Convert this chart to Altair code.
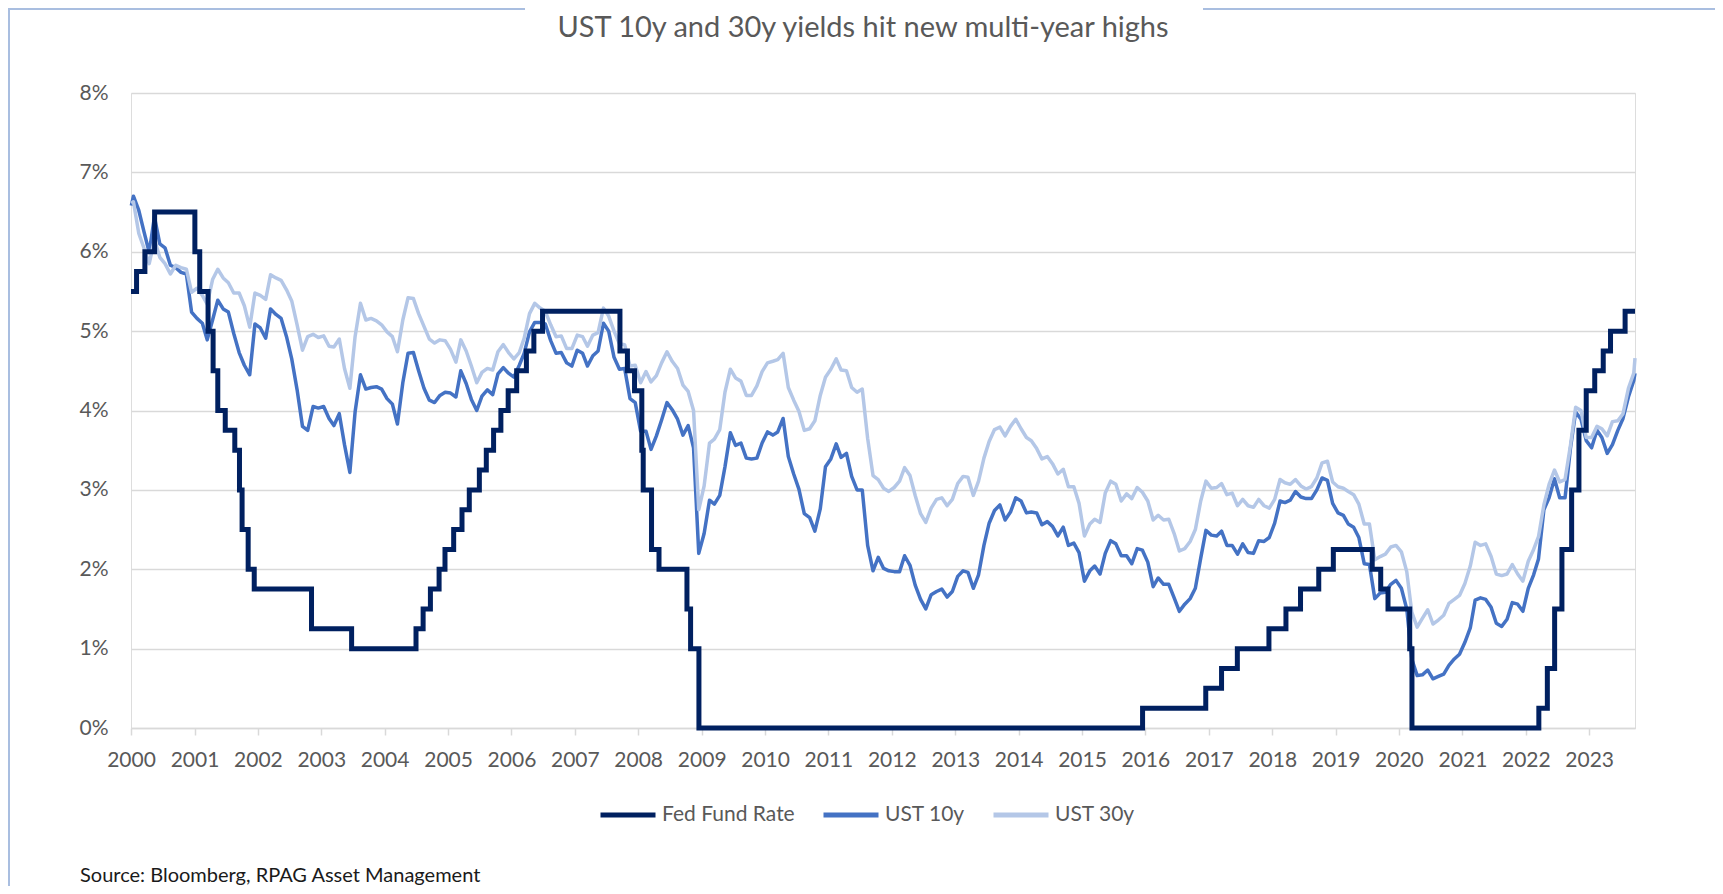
import altair as alt
import pandas as pd

TITLE = "UST 10y and 30y yields hit new multi-year highs"
SOURCE = "Source: Bloomberg, RPAG Asset Management"
SERIES = ["Fed Fund Rate", "UST 10y", "UST 30y"]
COLORS = ["#002060", "#4472C4", "#B4C7E7"]
YEARS = list(range(2000, 2024))
Y_TICKS = [0, 1, 2, 3, 4, 5, 6, 7, 8]

# Fed funds target (lower bound), change dates and levels (%)
fed_dates = [
    "2000-01-01", "2000-02-02", "2000-03-21", "2000-05-16", "2001-01-03", "2001-01-31",
    "2001-03-20", "2001-04-18", "2001-05-15", "2001-06-27", "2001-08-21", "2001-09-17",
    "2001-10-02", "2001-11-06", "2001-12-11", "2002-11-06", "2003-06-25", "2004-06-30",
    "2004-08-10", "2004-09-21", "2004-11-10", "2004-12-14", "2005-02-02", "2005-03-22",
    "2005-05-03", "2005-06-30", "2005-08-09", "2005-09-20", "2005-11-01", "2005-12-13",
    "2006-01-31", "2006-03-28", "2006-05-10", "2006-06-29", "2007-09-18", "2007-10-31",
    "2007-12-11", "2008-01-22", "2008-01-30", "2008-03-18", "2008-04-30", "2008-10-08",
    "2008-10-29", "2008-12-16", "2015-12-16", "2016-12-14", "2017-03-15", "2017-06-14",
    "2017-12-13", "2018-03-21", "2018-06-13", "2018-09-26", "2018-12-19", "2019-07-31",
    "2019-09-18", "2019-10-30", "2020-03-03", "2020-03-16", "2022-03-17", "2022-05-05",
    "2022-06-16", "2022-07-28", "2022-09-22", "2022-11-03", "2022-12-15", "2023-02-02",
    "2023-03-23", "2023-05-04", "2023-07-27", "2023-09-22",
]
fed_values = [
    5.50, 5.75, 6.00, 6.50, 6.00, 5.50,
    5.00, 4.50, 4.00, 3.75, 3.50, 3.00,
    2.50, 2.00, 1.75, 1.25, 1.00, 1.25,
    1.50, 1.75, 2.00, 2.25, 2.50, 2.75,
    3.00, 3.25, 3.50, 3.75, 4.00, 4.25,
    4.50, 4.75, 5.00, 5.25, 4.75, 4.50,
    4.25, 3.50, 3.00, 2.25, 2.00, 1.50,
    1.00, 0.00, 0.25, 0.50, 0.75, 1.00,
    1.25, 1.50, 1.75, 2.00, 2.25, 2.00,
    1.75, 1.50, 1.00, 0.00, 0.25, 0.75,
    1.50, 2.25, 3.00, 3.75, 4.25, 4.50,
    4.75, 5.00, 5.25, 5.25,
]

# UST yields (%), one value per month Jan 2000 .. Sep 2023
ust10 = [
    6.70, 6.52, 6.26, 5.99, 6.44, 6.10, 6.05, 5.83, 5.80, 5.74, 5.72, 5.24,  # 2000
    5.16, 5.10, 4.89, 5.14, 5.39, 5.28, 5.24, 4.97, 4.73, 4.57, 4.45, 5.09,  # 2001
    5.04, 4.91, 5.28, 5.21, 5.16, 4.93, 4.65, 4.26, 3.80, 3.75, 4.05, 4.03,  # 2002
    4.05, 3.90, 3.81, 3.96, 3.57, 3.22, 3.98, 4.45, 4.27, 4.29, 4.30, 4.27,  # 2003
    4.15, 4.08, 3.83, 4.35, 4.72, 4.73, 4.50, 4.28, 4.13, 4.10, 4.19, 4.23,  # 2004
    4.22, 4.17, 4.50, 4.34, 4.14, 4.00, 4.18, 4.26, 4.20, 4.46, 4.54, 4.47,  # 2005
    4.42, 4.57, 4.72, 4.99, 5.11, 5.11, 5.09, 4.88, 4.72, 4.73, 4.60, 4.56,  # 2006
    4.76, 4.72, 4.56, 4.69, 4.75, 5.10, 5.00, 4.67, 4.52, 4.53, 4.15, 4.10,  # 2007
    3.74, 3.74, 3.51, 3.68, 3.88, 4.10, 4.01, 3.89, 3.69, 3.81, 3.53, 2.20,  # 2008
    2.45, 2.87, 2.82, 2.93, 3.29, 3.72, 3.56, 3.59, 3.40, 3.39, 3.40, 3.59,  # 2009
    3.73, 3.69, 3.73, 3.90, 3.42, 3.20, 3.01, 2.70, 2.65, 2.48, 2.76, 3.29,  # 2010
    3.39, 3.58, 3.41, 3.46, 3.17, 3.00, 3.00, 2.30, 1.98, 2.15, 2.01, 1.98,  # 2011
    1.97, 1.97, 2.17, 2.05, 1.80, 1.62, 1.50, 1.68, 1.72, 1.75, 1.65, 1.72,  # 2012
    1.91, 1.98, 1.96, 1.76, 1.93, 2.30, 2.58, 2.74, 2.81, 2.62, 2.72, 2.90,  # 2013
    2.86, 2.71, 2.72, 2.71, 2.56, 2.60, 2.54, 2.42, 2.53, 2.30, 2.33, 2.21,  # 2014
    1.85, 1.98, 2.04, 1.94, 2.20, 2.36, 2.32, 2.17, 2.17, 2.07, 2.26, 2.24,  # 2015
    2.09, 1.78, 1.89, 1.81, 1.81, 1.64, 1.47, 1.56, 1.63, 1.76, 2.14, 2.49,  # 2016
    2.43, 2.42, 2.48, 2.30, 2.30, 2.19, 2.32, 2.21, 2.20, 2.36, 2.35, 2.40,  # 2017
    2.58, 2.86, 2.84, 2.87, 2.98, 2.91, 2.89, 2.89, 3.00, 3.15, 3.12, 2.83,  # 2018
    2.71, 2.68, 2.57, 2.53, 2.40, 2.07, 2.06, 1.63, 1.70, 1.71, 1.81, 1.86,  # 2019
    1.76, 1.50, 0.87, 0.66, 0.67, 0.73, 0.62, 0.65, 0.68, 0.79, 0.87, 0.93,  # 2020
    1.08, 1.26, 1.61, 1.64, 1.62, 1.52, 1.32, 1.28, 1.37, 1.58, 1.56, 1.47,  # 2021
    1.76, 1.93, 2.13, 2.75, 2.90, 3.14, 2.90, 2.90, 3.52, 3.98, 3.89, 3.62,  # 2022
    3.53, 3.75, 3.66, 3.46, 3.57, 3.75, 3.90, 4.17, 4.38,                    # 2023
]
ust30 = [
    6.63, 6.23, 6.05, 5.85, 6.15, 5.93, 5.85, 5.72, 5.83, 5.80, 5.78, 5.49,  # 2000
    5.54, 5.45, 5.34, 5.65, 5.78, 5.67, 5.61, 5.48, 5.48, 5.32, 5.05, 5.48,  # 2001
    5.45, 5.40, 5.71, 5.67, 5.64, 5.52, 5.38, 5.08, 4.76, 4.93, 4.96, 4.92,  # 2002
    4.94, 4.81, 4.80, 4.90, 4.53, 4.28, 4.93, 5.35, 5.14, 5.16, 5.13, 5.08,  # 2003
    4.99, 4.93, 4.74, 5.14, 5.42, 5.41, 5.22, 5.06, 4.90, 4.85, 4.89, 4.88,  # 2004
    4.77, 4.61, 4.89, 4.75, 4.56, 4.35, 4.48, 4.53, 4.51, 4.74, 4.83, 4.73,  # 2005
    4.65, 4.73, 4.91, 5.22, 5.35, 5.29, 5.25, 5.08, 4.93, 4.94, 4.78, 4.78,  # 2006
    4.95, 4.93, 4.81, 4.95, 4.98, 5.29, 5.19, 5.00, 4.84, 4.83, 4.56, 4.57,  # 2007
    4.35, 4.49, 4.36, 4.44, 4.60, 4.74, 4.62, 4.53, 4.32, 4.24, 4.00, 2.75,  # 2008
    3.05, 3.59, 3.64, 3.76, 4.23, 4.52, 4.41, 4.37, 4.19, 4.19, 4.31, 4.49,  # 2009
    4.60, 4.62, 4.64, 4.72, 4.29, 4.13, 3.99, 3.75, 3.77, 3.87, 4.19, 4.42,  # 2010
    4.52, 4.65, 4.51, 4.50, 4.29, 4.23, 4.27, 3.65, 3.18, 3.13, 3.02, 2.98,  # 2011
    3.03, 3.11, 3.28, 3.18, 2.93, 2.70, 2.59, 2.77, 2.88, 2.90, 2.80, 2.88,  # 2012
    3.08, 3.17, 3.16, 2.93, 3.11, 3.40, 3.61, 3.76, 3.79, 3.68, 3.80, 3.89,  # 2013
    3.77, 3.66, 3.62, 3.52, 3.39, 3.42, 3.33, 3.20, 3.26, 3.04, 3.04, 2.83,  # 2014
    2.42, 2.57, 2.63, 2.59, 2.96, 3.11, 3.07, 2.86, 2.95, 2.89, 3.03, 2.97,  # 2015
    2.86, 2.62, 2.68, 2.62, 2.63, 2.45, 2.23, 2.26, 2.35, 2.50, 2.86, 3.11,  # 2016
    3.02, 3.03, 3.08, 2.94, 2.96, 2.80, 2.88, 2.80, 2.78, 2.88, 2.80, 2.77,  # 2017
    2.88, 3.13, 3.09, 3.07, 3.13, 3.05, 3.01, 3.04, 3.15, 3.34, 3.36, 3.10,  # 2018
    3.04, 3.02, 2.98, 2.94, 2.82, 2.57, 2.57, 2.12, 2.16, 2.19, 2.28, 2.30,  # 2019
    2.22, 1.97, 1.46, 1.27, 1.38, 1.49, 1.31, 1.36, 1.42, 1.57, 1.62, 1.67,  # 2020
    1.82, 2.04, 2.34, 2.30, 2.32, 2.16, 1.94, 1.92, 1.94, 2.06, 1.94, 1.85,  # 2021
    2.10, 2.25, 2.41, 2.81, 3.07, 3.25, 3.10, 3.13, 3.56, 4.04, 4.00, 3.66,  # 2022
    3.66, 3.80, 3.77, 3.68, 3.86, 3.87, 3.96, 4.28, 4.47,                    # 2023
]
# first and last daily observations
start_date, start10, start30 = "2000-01-03", 6.58, 6.61
end_date, end10, end30 = "2023-09-22", 4.47, 4.66

# ---- build tables -------------------------------------------------------
month_dates = [f"{y}-{m:02d}-15" for y in YEARS for m in range(1, 13)][: len(ust10)]
y_dates = [start_date] + month_dates + [end_date]
v10 = [start10] + ust10 + [end10]
v30 = [start30] + ust30 + [end30]

yields = pd.DataFrame({
    "date": y_dates * 2,
    "value": v10 + v30,
    "series": ["UST 10y"] * len(y_dates) + ["UST 30y"] * len(y_dates),
})
fed = pd.DataFrame({"date": fed_dates, "value": fed_values, "series": "Fed Fund Rate"})

FONT = "Lato"
GRID = "#D9D9D9"
TXT = "#595959"
FRAME = "#A9BEE0"

W, H = 1504, 635
PAD = {"left": 123, "top": 85, "right": 80, "bottom": 158}

x_enc = alt.X(
    "date:T",
    title=None,
    scale=alt.Scale(
        type="utc",
        domain=[alt.DateTime(year=2000, month=1, date=1, utc=True),
                alt.DateTime(year=2023, month=9, date=22, utc=True)],
    ),
    axis=alt.Axis(
        values=[alt.DateTime(year=y, month=1, date=1, utc=True) for y in YEARS],
        format="%Y", formatType="utc", grid=False,
        domainColor=GRID, domainWidth=1.5,
        tickColor=GRID, tickWidth=1.5, tickSize=7,
        labelFont=FONT, labelFontSize=21, labelColor=TXT, labelPadding=14,
        labelFlush=False, labelOverlap=False,
    ),
)
y_enc = alt.Y(
    "value:Q",
    title=None,
    scale=alt.Scale(domain=[0, 8], nice=False, zero=True),
    axis=alt.Axis(
        values=Y_TICKS, labelExpr="datum.value + '%'",
        grid=True, gridColor=GRID, gridWidth=1.5,
        domain=False, ticks=False,
        labelFont=FONT, labelFontSize=21, labelColor=TXT, labelPadding=23,
    ),
)
color_enc = alt.Color(
    "series:N",
    scale=alt.Scale(domain=SERIES, range=COLORS),
    legend=alt.Legend(
        title=None, orient="none", direction="horizontal",
        legendX=467, legendY=692, padding=0,
        symbolType="stroke", symbolSize=3025, symbolStrokeWidth=5,
        labelFont=FONT, labelFontSize=21, labelColor=TXT,
        labelOffset=4, columnPadding=18,
    ),
)

l10 = (
    alt.Chart(yields).transform_filter(alt.datum.series == "UST 10y")
    .mark_line(strokeWidth=3.5, strokeJoin="round")
    .encode(x=x_enc, y=y_enc, color=color_enc)
)
l30 = (
    alt.Chart(yields).transform_filter(alt.datum.series == "UST 30y")
    .mark_line(strokeWidth=3.5, strokeJoin="round")
    .encode(x=x_enc, y=y_enc, color=color_enc)
)
lfed = (
    alt.Chart(fed)
    .mark_line(strokeWidth=5, interpolate="step-after", strokeJoin="miter")
    .encode(x=x_enc, y=y_enc, color=color_enc)
)

one = pd.DataFrame({"t": [TITLE], "s": [SOURCE]})
title_mark = alt.Chart(one).mark_text(
    font=FONT, fontSize=29, color=TXT, align="center", baseline="middle"
).encode(text="t:N", x=alt.value(732), y=alt.value(-65))
source_mark = alt.Chart(one).mark_text(
    font=FONT, fontSize=20, color="#1A1A1A", align="left", baseline="alphabetic"
).encode(text="s:N", x=alt.value(-51), y=alt.value(789))

frame_top_left = alt.Chart(one).mark_rule(color=FRAME, strokeWidth=2).encode(
    x=alt.value(-123), x2=alt.value(394), y=alt.value(-84))
frame_top_right = alt.Chart(one).mark_rule(color=FRAME, strokeWidth=2).encode(
    x=alt.value(1072), x2=alt.value(1584), y=alt.value(-84))
frame_left = alt.Chart(one).mark_rule(color=FRAME, strokeWidth=2).encode(
    x=alt.value(-122), y=alt.value(-85), y2=alt.value(793))

chart = (
    alt.layer(l10, l30, lfed, title_mark, source_mark,
              frame_top_left, frame_top_right, frame_left)
    .properties(width=W, height=H, padding=PAD,
                autosize=alt.AutoSizeParams(type="none"))
    .configure_view(stroke=None)
    .configure(background="white")
)

chart.save("out.html", embed_options={"renderer": "svg", "actions": False})
